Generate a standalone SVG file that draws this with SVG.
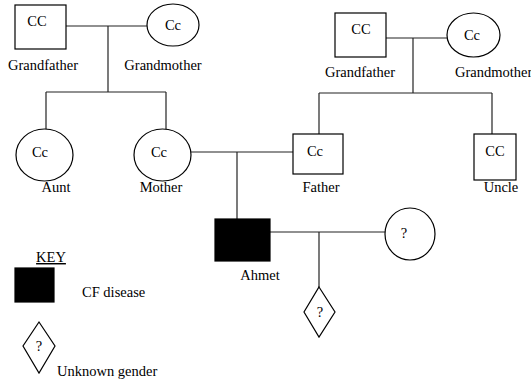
<svg xmlns="http://www.w3.org/2000/svg" width="531" height="383" viewBox="0 0 531 383">
<style>
text{font-family:"Liberation Serif","Times New Roman",serif;font-size:14.5px;fill:#000}
.s{fill:#fff;stroke:#000;stroke-width:1.2}
.f{fill:#000;stroke:#000;stroke-width:1.2}
.c line{stroke:#222;stroke-width:1.2}
.m{text-anchor:middle}
</style>
<rect width="531" height="383" fill="#fff"/>
<g class="c" id="connectors">
<line x1="66" y1="26" x2="147" y2="26"/>
<line x1="108" y1="26" x2="108" y2="92"/>
<line x1="46" y1="92" x2="166" y2="92"/>
<line x1="46" y1="92" x2="46" y2="129"/>
<line x1="166" y1="92" x2="166" y2="129"/>
<line x1="386" y1="38" x2="447" y2="38"/>
<line x1="413" y1="38" x2="413" y2="93"/>
<line x1="319" y1="93" x2="492" y2="93"/>
<line x1="319" y1="93" x2="319" y2="134"/>
<line x1="492" y1="93" x2="492" y2="134"/>
<line x1="191" y1="152" x2="293" y2="152"/>
<line x1="237" y1="152" x2="237" y2="219"/>
<line x1="270" y1="232" x2="385" y2="232"/>
<line x1="319" y1="232" x2="319" y2="287"/>
</g>
<g id="grandfather1"><rect class="s" x="15" y="5" width="51" height="44"/><text x="37" y="26" class="m">CC</text><text x="43" y="70" class="m">Grandfather</text></g>
<g id="grandmother1"><ellipse class="s" cx="173" cy="25" rx="26" ry="21"/><text x="173" y="30" class="m">Cc</text><text x="163" y="70" class="m">Grandmother</text></g>
<g id="grandfather2"><rect class="s" x="335" y="13" width="51" height="44"/><text x="361" y="34" class="m">CC</text><text x="360" y="77" class="m">Grandfather</text></g>
<g id="grandmother2"><ellipse class="s" cx="473.5" cy="35" rx="26.5" ry="22"/><text x="472" y="40" class="m">Cc</text><text x="455" y="77">Grandmother</text></g>
<g id="aunt"><ellipse class="s" cx="44.5" cy="155" rx="28.5" ry="26"/><text x="40" y="157" class="m">Cc</text><text x="56" y="192" class="m">Aunt</text></g>
<g id="mother"><ellipse class="s" cx="162.5" cy="155" rx="28.5" ry="26"/><text x="159" y="157" class="m">Cc</text><text x="161" y="192" class="m">Mother</text></g>
<g id="father"><rect class="s" x="293" y="134" width="50" height="40"/><text x="315" y="156" class="m">Cc</text><text x="321" y="192" class="m">Father</text></g>
<g id="uncle"><rect class="s" x="474" y="134" width="42" height="46"/><text x="495" y="156" class="m">CC</text><text x="501" y="192" class="m">Uncle</text></g>
<g id="ahmet"><rect class="f" x="215" y="219" width="55" height="42"/><text x="260" y="280" class="m">Ahmet</text></g>
<g id="partner"><ellipse class="s" cx="410" cy="234" rx="25" ry="26"/><text x="404" y="238" class="m">?</text></g>
<g id="child"><polygon class="s" points="319,287 335,312 319,337 304,312"/><text x="320" y="317" class="m">?</text></g>
<g id="key">
<text x="51" y="262" class="m" text-decoration="underline">KEY</text>
<rect class="f" x="15" y="268" width="39" height="34"/>
<text x="82" y="297">CF disease</text>
<polygon class="s" points="39,322 55,346 39,373 23,346"/>
<text x="39" y="351" class="m">?</text>
<text x="57" y="376">Unknown gender</text>
</g>
</svg>
